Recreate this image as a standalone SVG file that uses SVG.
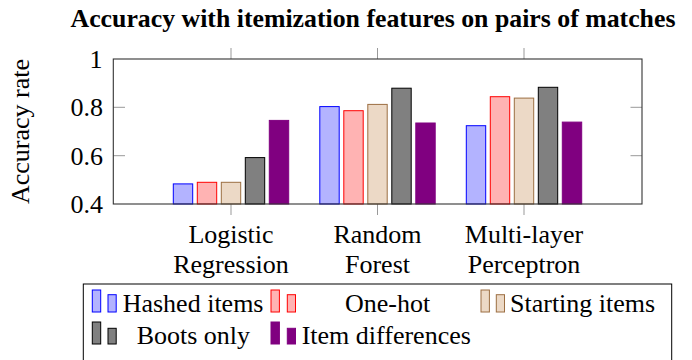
<svg xmlns="http://www.w3.org/2000/svg" width="692" height="360" viewBox="0 0 692 360">
<style>
text{font-family:'Liberation Serif','Times New Roman','Tinos','DejaVu Serif',serif;font-size:26px;fill:#000}
.title{font-weight:bold;font-size:25.8px}
.frame{fill:none;stroke:#333;stroke-width:1.1}
.tick{stroke:#999;stroke-width:1}
.hashed{fill:#b3b3ff;stroke:#0000ff;stroke-width:1}
.onehot{fill:#ffb3b3;stroke:#ff0000;stroke-width:1}
.start{fill:#ecd9c6;stroke:#9c6e42;stroke-width:1}
.boots{fill:#808080;stroke:#000;stroke-width:1}
.item{fill:#800080;stroke:#800080;stroke-width:1}
</style>
<rect x="0" y="0" width="692" height="360" fill="#fff"/>
<g id="title"><text class="title" x="373" y="27" text-anchor="middle" font-family="Liberation Serif">Accuracy with itemization features on pairs of matches</text></g>
<g id="y-axis-label"><text transform="translate(29,131.5) rotate(-90)" text-anchor="middle">Accuracy rate</text></g>
<g id="axes">
<g class="tick">
<line x1="231" y1="48" x2="231" y2="59"/><line x1="377.5" y1="48" x2="377.5" y2="59"/><line x1="524" y1="48" x2="524" y2="59"/>
<line x1="231" y1="204" x2="231" y2="215"/><line x1="377.5" y1="204" x2="377.5" y2="215"/><line x1="524" y1="204" x2="524" y2="215"/>
<line x1="113.3" y1="107.3" x2="125" y2="107.3"/><line x1="113.3" y1="155.7" x2="125" y2="155.7"/>
<line x1="630.5" y1="107.3" x2="642" y2="107.3"/><line x1="630.5" y1="155.7" x2="642" y2="155.7"/>
</g>
<g text-anchor="end">
<text x="102.5" y="67.5">1</text>
<text x="103" y="116">0.8</text>
<text x="103" y="164.5">0.6</text>
<text x="103" y="212.7">0.4</text>
</g>
<g text-anchor="middle">
<text x="231" y="243">Logistic</text><text x="231" y="272.7">Regression</text>
<text x="377.5" y="243">Random</text><text x="377.5" y="272.7">Forest</text>
<text x="524" y="243">Multi-layer</text><text x="524" y="272.7">Perceptron</text>
</g>
</g>
<g id="bars">
<g id="group-logistic">
<rect class="hashed" x="173.3" y="183.9" width="19.4" height="20.1"/>
<rect class="onehot" x="197.3" y="182.3" width="19.4" height="21.7"/>
<rect class="start" x="221.3" y="182.3" width="19.4" height="21.7"/>
<rect class="boots" x="245.3" y="157.6" width="19.4" height="46.4"/>
<rect class="item" x="269.3" y="120.4" width="19.4" height="83.6"/>
</g>
<g id="group-forest">
<rect class="hashed" x="319.8" y="106.6" width="19.4" height="97.4"/>
<rect class="onehot" x="343.8" y="110.7" width="19.4" height="93.3"/>
<rect class="start" x="367.8" y="104.4" width="19.4" height="99.6"/>
<rect class="boots" x="391.8" y="88.2" width="19.4" height="115.8"/>
<rect class="item" x="415.8" y="123" width="19.4" height="81"/>
</g>
<g id="group-mlp">
<rect class="hashed" x="466.3" y="125.7" width="19.4" height="78.3"/>
<rect class="onehot" x="490.3" y="96.7" width="19.4" height="107.3"/>
<rect class="start" x="514.3" y="98.1" width="19.4" height="105.9"/>
<rect class="boots" x="538.3" y="87.3" width="19.4" height="116.7"/>
<rect class="item" x="562.3" y="122.1" width="19.4" height="81.9"/>
</g>
</g>
<rect id="plot-frame" class="frame" x="113.3" y="59" width="528.7" height="145"/>
<g id="legend">
<rect x="83.3" y="284" width="588.4" height="90" fill="#fff" stroke="#000" stroke-width="1"/>
<g id="legend-hashed">
<rect class="hashed" x="92.3" y="290" width="8.4" height="22"/><rect class="hashed" x="108" y="294.7" width="8.2" height="17.3"/>
<text x="122.7" y="312">Hashed items</text>
</g>
<g id="legend-onehot">
<rect class="onehot" x="271" y="290" width="8.4" height="22"/><rect class="onehot" x="287.3" y="294.7" width="8.2" height="17.3"/>
<text x="345" y="312">One-hot</text>
</g>
<g id="legend-start">
<rect class="start" x="481" y="290" width="8.4" height="22"/><rect class="start" x="496.3" y="294.7" width="8.2" height="17.3"/>
<text x="510" y="312">Starting items</text>
</g>
<g id="legend-boots">
<rect class="boots" x="92.3" y="322" width="8.4" height="22"/><rect class="boots" x="108" y="328.3" width="8.2" height="15.7"/>
<text x="136.7" y="344">Boots only</text>
</g>
<g id="legend-item">
<rect class="item" x="271" y="322" width="8.4" height="22"/><rect class="item" x="287.3" y="328.3" width="8.2" height="15.7"/>
<text x="301.7" y="344">Item differences</text>
</g>
</g>
</svg>
